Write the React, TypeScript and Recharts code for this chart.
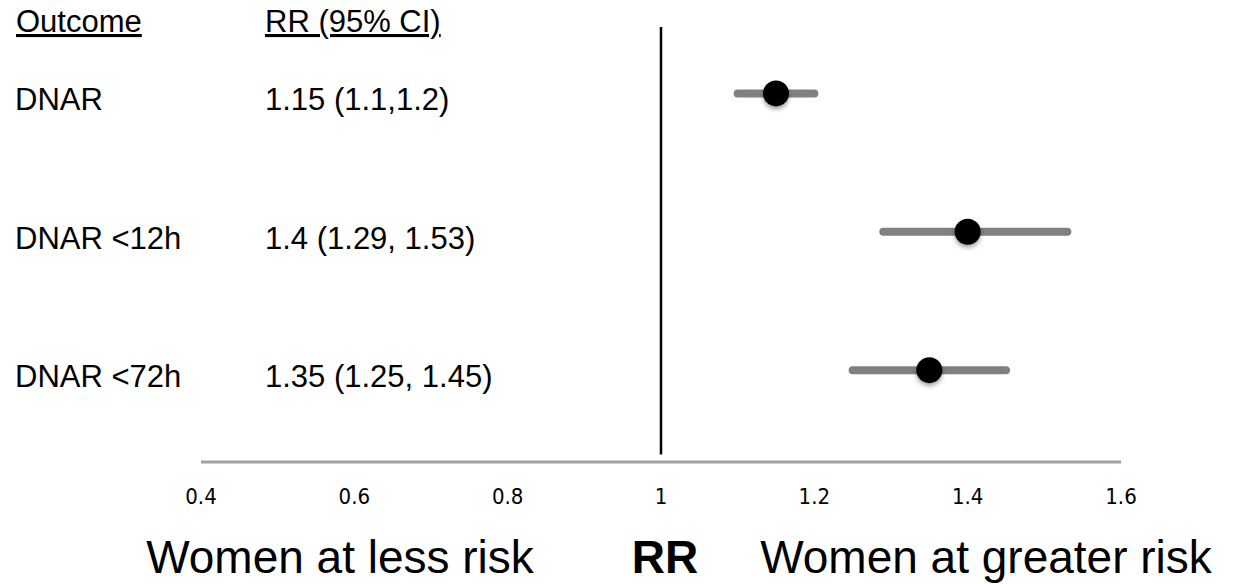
import React from 'react';
import { ScatterChart, Scatter, XAxis, YAxis, ReferenceLine } from 'recharts';

const outcomes = ['DNAR', 'DNAR <12h', 'DNAR <72h'];
const rrLabels = ['1.15 (1.1,1.2)', '1.4 (1.29, 1.53)', '1.35 (1.25, 1.45)'];
const rr = [1.15, 1.4, 1.35];
const lower = [1.1, 1.29, 1.25];
const upper = [1.2, 1.53, 1.45];
const rowPos = [3, 2, 1];
const xTicks = [0.4, 0.6, 0.8, 1, 1.2, 1.4, 1.6];

const FONT = '"Liberation Sans", Arial, sans-serif';

const points = rr.map((v, i) => ({ x: v, y: rowPos[i] }));
const ciRows = lower.map((lo, i) => [
  { x: lo, y: rowPos[i] },
  { x: upper[i], y: rowPos[i] },
]);

const RowTick = (props: any) => {
  const { y, payload } = props;
  const i = rowPos.indexOf(payload.value);
  if (i < 0) return null;
  return (
    <g>
      <text x={15} y={y + 17} fontSize={31} fontFamily={FONT} fill="#000">{outcomes[i]}</text>
      <text x={265} y={y + 17} fontSize={31} fontFamily={FONT} fill="#000">{rrLabels[i]}</text>
    </g>
  );
};

const Dot = (props: any) => (
  <circle
    cx={props.cx}
    cy={props.cy}
    r={13}
    fill="#000"
    style={{ filter: 'drop-shadow(0px 3px 2px rgba(0,0,0,0.35))' }}
  />
);

const App: React.FC = () => (
  <div style={{ position: 'fixed', left: 0, top: 0, width: 1246, height: 584, background: '#fff' }}>
    <ScatterChart width={1246} height={584} margin={{ top: 27, right: 125, bottom: 82, left: 0 }}>
      <XAxis
        type="number"
        dataKey="x"
        domain={[0.4, 1.6]}
        ticks={xTicks}
        allowDataOverflow
        tickLine={false}
        tickSize={6}
        tickMargin={20}
        height={40}
        axisLine={{ stroke: '#a0a0a0', strokeWidth: 3 }}
        tick={{ fill: '#000', fontSize: 22, fontFamily: '"DejaVu Sans Condensed", sans-serif' }}
      />
      <YAxis
        type="number"
        dataKey="y"
        domain={[0.336, 3.48]}
        ticks={rowPos}
        width={201}
        axisLine={false}
        tickLine={false}
        tick={<RowTick />}
      />
      <ReferenceLine
        segment={[{ x: 1, y: 0.39 }, { x: 1, y: 3.48 }]}
        stroke="#000"
        strokeWidth={2.5}
      />
      {ciRows.map((d, i) => (
        <Scatter
          key={i}
          data={d}
          line={{ stroke: '#808080', strokeWidth: 8, strokeLinecap: 'round' }}
          shape={() => <g />}
          legendType="none"
          isAnimationActive={false}
        />
      ))}
      <Scatter data={points} shape={<Dot />} isAnimationActive={false} />
    </ScatterChart>
    <svg width={1246} height={584} style={{ position: 'absolute', left: 0, top: 0, pointerEvents: 'none' }}>
      <text x={16} y={32} fontSize={31} fontFamily={FONT} fill="#000" textDecoration="underline">Outcome</text>
      <text x={265} y={32} fontSize={31} fontFamily={FONT} fill="#000" textDecoration="underline">RR (95% CI)</text>
      <text x={340} y={573} fontSize={46} fontFamily={FONT} fill="#000" textAnchor="middle">Women at less risk</text>
      <text x={665} y={573} fontSize={46} fontFamily={FONT} fill="#000" textAnchor="middle" fontWeight="bold">RR</text>
      <text x={986} y={573} fontSize={46} fontFamily={FONT} fill="#000" textAnchor="middle">Women at greater risk</text>
    </svg>
  </div>
);

export default App;
